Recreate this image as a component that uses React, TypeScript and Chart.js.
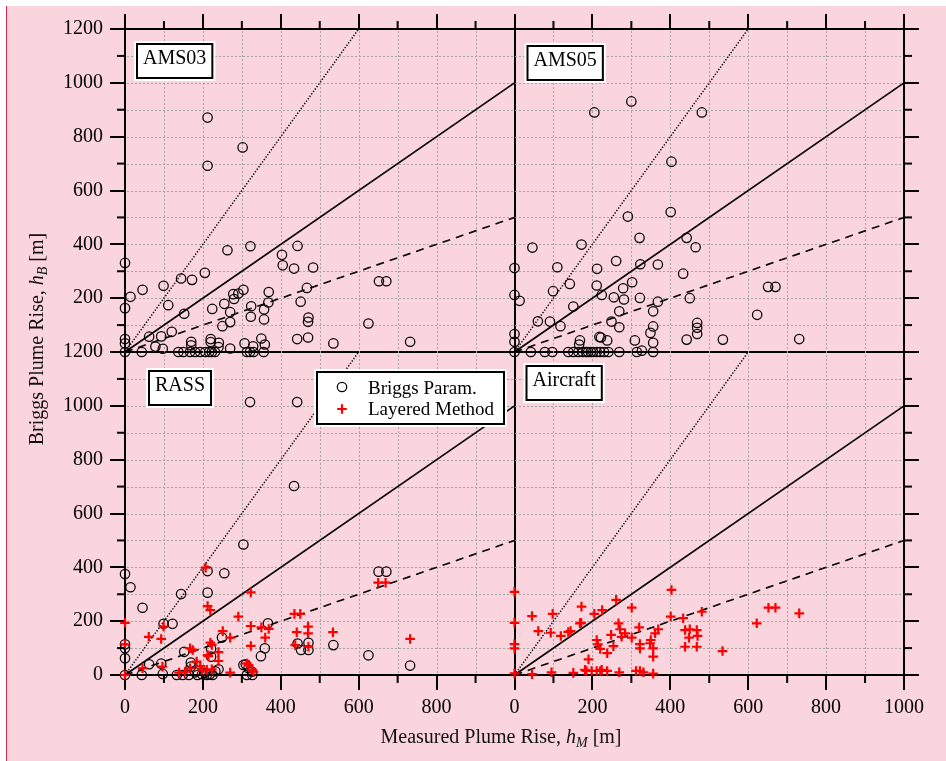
import React, { useEffect, useRef } from 'react';
import { Chart, registerables } from 'chart.js';

Chart.register(...registerables);

type Pt = [number, number];

// ---------- tick labels / texts ----------
const xMajorTicks = [0, 200, 400, 600, 800, 1000];
const yMajorTicks = [0, 200, 400, 600, 800, 1000, 1200];
const panelNames = ['AMS03', 'AMS05', 'RASS', 'Aircraft'];
const legendLabels = ['Briggs Param.', 'Layered Method'];

// ---------- data (measured hM, Briggs hB) ----------
const ams03Briggs: Pt[] = [
  [0, 331], [212, 871], [302, 760], [212, 692], [263, 378], [322, 393], [443, 394], [403, 361],
  [405, 322], [434, 310], [483, 314], [205, 294], [144, 273], [172, 268], [45, 231], [99, 246],
  [14, 205], [0, 163], [111, 174], [152, 142], [652, 263], [671, 263], [625, 106], [732, 38],
  [535, 32], [442, 48], [470, 54], [467, 238], [451, 187], [471, 128], [470, 112], [369, 223],
  [368, 184], [357, 158], [357, 121], [324, 170], [323, 131], [304, 231], [291, 217], [278, 215],
  [280, 197], [255, 179], [270, 148], [270, 111], [250, 96], [224, 160], [120, 75], [93, 58],
  [62, 57], [0, 48], [0, 32], [0, 0], [78, 20], [97, 12], [43, 0], [170, 38], [170, 25],
  [220, 48], [220, 37], [241, 34], [307, 32], [350, 50], [359, 28], [329, 21], [270, 13],
  [137, 0], [150, 0], [167, 0], [180, 0], [193, 0], [206, 0], [216, 0], [223, 0], [231, 0],
  [240, 18], [313, 0], [321, 0], [330, 0], [356, 0],
];

const ams05Briggs: Pt[] = [
  [300, 931], [205, 890], [481, 890], [403, 707], [401, 520], [291, 503], [321, 424], [442, 424],
  [465, 389], [172, 399], [46, 388], [0, 312], [110, 315], [212, 309], [261, 338], [323, 326],
  [368, 325], [433, 291], [0, 212], [13, 190], [99, 226], [142, 253], [211, 247], [224, 212],
  [279, 237], [302, 259], [255, 203], [281, 195], [322, 201], [368, 187], [450, 200], [151, 169],
  [269, 151], [356, 151], [60, 114], [91, 113], [118, 96], [249, 113], [269, 92], [356, 95],
  [349, 71], [356, 34], [309, 43], [238, 43], [218, 56], [222, 54], [168, 43], [166, 28],
  [0, 67], [0, 38], [469, 108], [469, 90], [469, 67], [442, 46], [535, 46], [623, 138],
  [651, 242], [670, 242], [731, 48], [0, 0], [42, 0], [78, 0], [97, 0], [138, 0], [151, 0],
  [164, 0], [175, 0], [184, 0], [189, 0], [196, 0], [202, 0], [211, 0], [220, 0], [230, 0],
  [241, 0], [269, 0], [314, 0], [327, 5], [356, 0],
];

const rassBriggs: Pt[] = [
  [321, 1014], [442, 1014], [434, 702], [304, 485], [0, 375], [14, 326], [45, 250], [144, 301],
  [212, 386], [212, 306], [255, 378], [99, 190], [122, 190], [367, 192], [651, 384], [671, 384],
  [0, 114], [0, 99], [0, 62], [152, 86], [249, 139], [221, 97], [221, 68], [359, 99], [349, 70],
  [443, 117], [452, 93], [471, 120], [471, 93], [535, 111], [625, 73], [732, 35], [304, 37],
  [317, 25], [240, 21], [93, 42], [62, 40], [169, 46], [169, 31], [310, 40], [326, 12], [0, 0],
  [43, 0], [97, 4], [133, 0], [148, 0], [164, 0], [186, 0], [198, 3], [210, 0], [217, 2],
  [225, 0], [313, 0], [327, 0], [180, 10], [206, 8], [232, 14],
];

const rassLayered: Pt[] = [
  [207, 399], [323, 307], [212, 256], [219, 241], [291, 217], [0, 194], [0, 114], [99, 180],
  [61, 142], [93, 134], [251, 163], [270, 139], [323, 182], [323, 108], [350, 177], [369, 171],
  [360, 139], [435, 227], [450, 227], [441, 159], [470, 180], [470, 155], [437, 111], [471, 105],
  [534, 159], [732, 134], [650, 343], [669, 343], [167, 99], [174, 93], [219, 120], [223, 112],
  [214, 70], [240, 85], [240, 52], [212, 74], [313, 43], [317, 37], [326, 19], [330, 12],
  [270, 9], [45, 25], [96, 31], [139, 9], [154, 12], [184, 50], [193, 33], [197, 19], [210, 19],
  [223, 21], [167, 25], [0, 0],
];

const aircraftLayered: Pt[] = [
  [0, 309], [0, 194], [0, 115], [0, 99], [0, 6], [45, 219], [61, 163], [98, 227], [93, 157],
  [119, 145], [138, 160], [144, 163], [168, 192], [171, 194], [172, 254], [205, 227], [225, 241],
  [261, 279], [301, 250], [403, 316], [401, 217], [433, 211], [481, 235], [622, 192], [652, 250],
  [670, 250], [731, 229], [534, 89], [211, 130], [214, 114], [220, 97], [238, 81], [190, 58],
  [254, 107], [248, 149], [267, 192], [271, 170], [284, 155], [275, 142], [301, 139], [320, 177],
  [322, 115], [322, 99], [348, 118], [350, 130], [356, 99], [356, 68], [361, 155], [369, 170],
  [438, 167], [450, 170], [468, 167], [470, 145], [438, 105], [468, 105], [448, 139], [45, 3],
  [95, 10], [151, 8], [185, 15], [198, 15], [211, 15], [220, 15], [238, 15], [269, 10], [312, 15],
  [322, 15], [331, 10], [356, 5], [181, 19], [224, 19],
];

// reference lines hB = 2 hM, hB = hM, hB = hM / 2
const lineTwice: Pt[] = [[0, 0], [600, 1200]];
const lineEqual: Pt[] = [[0, 0], [1000, 1000]];
const lineHalf: Pt[] = [[0, 0], [1000, 500]];

// ---------- styling / layout ----------
const FONT = '"Liberation Serif", "Times New Roman", Times, serif';
const PINK = '#fbd5dd';
const RED = '#ff0000';
const GRID = '#a2a2a2';

const panels = [
  { name: panelNames[0], x: 'xL', y: 'yT', briggs: ams03Briggs, layered: null as Pt[] | null, dx: 12, dy: 15 },
  { name: panelNames[1], x: 'xR', y: 'yT', briggs: ams05Briggs, layered: null as Pt[] | null, dx: 13, dy: 17 },
  { name: panelNames[2], x: 'xL', y: 'yB', briggs: rassBriggs, layered: rassLayered, dx: 24, dy: 19 },
  { name: panelNames[3], x: 'xR', y: 'yB', briggs: null as Pt[] | null, layered: aircraftLayered, dx: 12, dy: 14 },
];

const toXY = (a: Pt[]) => a.map(([x, y]) => ({ x, y }));

function buildDatasets() {
  const ds: any[] = [];
  for (const p of panels) {
    if (p.layered) {
      ds.push({
        label: legendLabels[1], data: toXY(p.layered), xAxisID: p.x, yAxisID: p.y,
        showLine: false, pointStyle: 'cross', pointRadius: 4.8, pointHoverRadius: 4.8,
        pointBorderColor: RED, pointBackgroundColor: RED, pointBorderWidth: 2.2, clip: false,
      });
    }
    if (p.briggs) {
      ds.push({
        label: legendLabels[0], data: toXY(p.briggs), xAxisID: p.x, yAxisID: p.y,
        showLine: false, pointStyle: 'circle', pointRadius: 4.7, pointHoverRadius: 4.7,
        pointBorderColor: '#000', pointBackgroundColor: 'rgba(0,0,0,0)', pointBorderWidth: 1.25, clip: false,
      });
    }
  }
  for (const p of panels) {
    const base = { xAxisID: p.x, yAxisID: p.y, showLine: true, pointRadius: 0, pointHoverRadius: 0,
      borderColor: '#000', fill: false, tension: 0, clip: false };
    ds.push({ ...base, label: 'ratio 2', data: toXY(lineTwice), borderWidth: 1.5, borderDash: [1.3, 1.7] });
    ds.push({ ...base, label: 'ratio 1', data: toXY(lineEqual), borderWidth: 1.6 });
    ds.push({ ...base, label: 'ratio 0.5', data: toXY(lineHalf), borderWidth: 1.6, borderDash: [8, 6] });
  }
  return ds;
}

const AREA = { left: 125, right: 904, top: 29, bottom: 675, W: 946, H: 761 };

function mkScale(o: {
  position: string; stack: string; min: number; max: number; major: number[]; hide?: number;
  labels: boolean; divider?: number; size: number; horizontal: boolean;
}) {
  return {
    type: 'linear',
    position: o.position,
    stack: o.stack,
    stackWeight: 1,
    min: o.min,
    max: o.max,
    offset: false,
    ticks: {
      display: o.labels,
      stepSize: 100,
      autoSkip: false,
      maxRotation: 0,
      minRotation: 0,
      padding: o.horizontal ? 6 : 7,
      color: '#000',
      font: { family: FONT, size: 20 },
      callback: (v: any) => (o.major.includes(v) && v !== o.hide ? String(v) : ''),
    },
    grid: {
      display: true,
      drawOnChartArea: o.divider !== undefined,
      drawTicks: true,
      tickLength: 15,
      tickWidth: 2,
      tickColor: (c: any) => (c.tick && c.tick.value % 200 === 0 ? '#000' : 'rgba(0,0,0,0)'),
      color: (c: any) => (c.tick && o.divider !== undefined && c.tick.value === o.divider ? '#000' : 'rgba(0,0,0,0)'),
      lineWidth: 2,
    },
    border: { display: true, color: '#000', width: 2 },
    afterFit: (s: any) => {
      if (o.horizontal) s.height = o.size; else s.width = o.size;
    },
  };
}

function buildScales() {
  const L = AREA.left, T = AREA.top, R = AREA.W - AREA.right, B = AREA.H - AREA.bottom;
  // order matters for stacking: left/top stacks are laid out in reverse definition order
  return {
    yB: mkScale({ position: 'left', stack: 'yl', min: 0, max: 1200, major: yMajorTicks, labels: true, divider: 1200, size: L, horizontal: false }),
    yT: mkScale({ position: 'left', stack: 'yl', min: 0, max: 1200, major: yMajorTicks, hide: 0, labels: true, size: L, horizontal: false }),
    xL: mkScale({ position: 'bottom', stack: 'xb', min: 0, max: 1000, major: xMajorTicks, hide: 1000, labels: true, size: B, horizontal: true }),
    xR: mkScale({ position: 'bottom', stack: 'xb', min: 0, max: 1000, major: xMajorTicks, labels: true, divider: 0, size: B, horizontal: true }),
    xTR: mkScale({ position: 'top', stack: 'xt', min: 0, max: 1000, major: xMajorTicks, labels: false, size: T, horizontal: true }),
    xTL: mkScale({ position: 'top', stack: 'xt', min: 0, max: 1000, major: xMajorTicks, labels: false, size: T, horizontal: true }),
    yTR: mkScale({ position: 'right', stack: 'yr', min: 0, max: 1200, major: yMajorTicks, labels: false, size: R, horizontal: false }),
    yBR: mkScale({ position: 'right', stack: 'yr', min: 0, max: 1200, major: yMajorTicks, labels: false, size: R, horizontal: false }),
  };
}

type Part = { t: string; font: string; dy?: number };

function drawRich(ctx: CanvasRenderingContext2D, parts: Part[], cx: number, baseY: number) {
  let total = 0;
  const widths = parts.map((p) => { ctx.font = p.font; const w = ctx.measureText(p.t).width; total += w; return w; });
  let x = cx - total / 2;
  ctx.textAlign = 'left';
  ctx.textBaseline = 'alphabetic';
  parts.forEach((p, i) => {
    ctx.font = p.font;
    ctx.fillText(p.t, x, baseY + (p.dy || 0));
    x += widths[i];
  });
}

function drawBoxFrame(ctx: CanvasRenderingContext2D, x: number, y: number, w: number, h: number) {
  ctx.fillStyle = '#fff';
  ctx.fillRect(x - 3, y - 3, w + 6, h + 6);
  ctx.strokeStyle = '#000';
  ctx.lineWidth = 2;
  ctx.strokeRect(x, y, w, h);
}

function drawGrid(chart: any) {
  // dotted grid every 100 units inside each panel, drawn as small dashes
  const ctx: CanvasRenderingContext2D = chart.ctx;
  const sc = chart.scales;
  const area = chart.chartArea;
  const top = Math.round(area.top), bottom = Math.round(area.bottom);
  const left = Math.round(area.left), right = Math.round(area.right);
  ctx.save();
  ctx.setLineDash([]);
  ctx.globalAlpha = 1;
  ctx.fillStyle = GRID;
  for (const id of ['xL', 'xR']) {
    const s = sc[id];
    for (let v = s.min + 100; v < s.max; v += 100) {
      const p = Math.round(s.getPixelForValue(v));
      for (let y = top + 2; y < bottom - 1; y += 4) ctx.fillRect(p, y, 1, 2);
    }
  }
  for (const id of ['yT', 'yB']) {
    const s = sc[id];
    for (let v = s.min + 100; v < s.max; v += 100) {
      const p = Math.round(s.getPixelForValue(v));
      for (let x = left + 2; x < right - 1; x += 4) ctx.fillRect(x, p, 2, 1);
    }
  }
  ctx.restore();
}

const decorPlugin = {
  id: 'decor',
  beforeDatasetsDraw(chart: any) {
    drawGrid(chart);
  },
  afterDraw(chart: any) {
    const ctx: CanvasRenderingContext2D = chart.ctx;
    const sc = chart.scales;
    ctx.save();
    // minor ticks (odd hundreds), shorter than the major ones
    ctx.strokeStyle = '#000';
    ctx.lineWidth = 2;
    const minorLen = 8;
    const doMinor = (id: string) => {
      const s = sc[id];
      for (let v = s.min + 100; v < s.max; v += 200) {
        const p = s.getPixelForValue(v);
        ctx.beginPath();
        if (s.position === 'left') { ctx.moveTo(s.right - minorLen, p); ctx.lineTo(s.right, p); }
        else if (s.position === 'right') { ctx.moveTo(s.left, p); ctx.lineTo(s.left + minorLen, p); }
        else if (s.position === 'top') { ctx.moveTo(p, s.bottom - minorLen); ctx.lineTo(p, s.bottom); }
        else { ctx.moveTo(p, s.top); ctx.lineTo(p, s.top + minorLen); }
        ctx.stroke();
      }
    };
    ['yT', 'yB', 'yTR', 'yBR', 'xL', 'xR', 'xTL', 'xTR'].forEach(doMinor);

    // panel name boxes
    for (const p of panels) {
      const xs = sc[p.x], ys = sc[p.y];
      const x0 = xs.left + p.dx, y0 = ys.top + p.dy;
      ctx.font = `20px ${FONT}`;
      const tw = ctx.measureText(p.name).width;
      const w = tw + 12, h = 34;
      drawBoxFrame(ctx, x0, y0, w, h);
      ctx.fillStyle = '#000';
      ctx.textAlign = 'left';
      ctx.textBaseline = 'alphabetic';
      ctx.fillText(p.name, x0 + 6, y0 + 20);
    }

    // legend inside the RASS panel
    {
      const xs = sc.xL, ys = sc.yB;
      const lx = xs.left + 192, ly = ys.top + 20, lw = 187, lh = 52;
      drawBoxFrame(ctx, lx, ly, lw, lh);
      const sx = lx + 25;
      ctx.strokeStyle = '#000';
      ctx.lineWidth = 1.25;
      ctx.beginPath();
      ctx.arc(sx, ly + 15, 4.7, 0, Math.PI * 2);
      ctx.stroke();
      ctx.strokeStyle = RED;
      ctx.lineWidth = 2.2;
      ctx.beginPath();
      ctx.moveTo(sx - 4.8, ly + 37); ctx.lineTo(sx + 4.8, ly + 37);
      ctx.moveTo(sx, ly + 37 - 4.8); ctx.lineTo(sx, ly + 37 + 4.8);
      ctx.stroke();
      ctx.fillStyle = '#000';
      ctx.font = `19px ${FONT}`;
      ctx.textAlign = 'left';
      ctx.textBaseline = 'alphabetic';
      ctx.fillText(legendLabels[0], lx + 51, ly + 21.5);
      ctx.fillText(legendLabels[1], lx + 51, ly + 43);
    }

    // axis titles
    ctx.fillStyle = '#111';
    const n = `20px ${FONT}`, it = `italic 20px ${FONT}`, sub = `italic 14px ${FONT}`;
    drawRich(ctx, [
      { t: 'Measured Plume Rise, ', font: n },
      { t: 'h', font: it },
      { t: 'M', font: sub, dy: 4 },
      { t: ' [m]', font: n },
    ], 501, 743);
    ctx.save();
    ctx.translate(43, 339);
    ctx.rotate(-Math.PI / 2);
    drawRich(ctx, [
      { t: 'Briggs Plume Rise, ', font: n },
      { t: 'h', font: it },
      { t: 'B', font: sub, dy: 4 },
      { t: ' [m]', font: n },
    ], 0, 0);
    ctx.restore();
    ctx.restore();
  },
};

function PlumeChart() {
  const ref = useRef<HTMLCanvasElement | null>(null);
  useEffect(() => {
    if (!ref.current) return;
    Chart.defaults.font.family = FONT;
    const chart = new Chart(ref.current, {
      type: 'scatter',
      data: { datasets: buildDatasets() },
      options: {
        animation: false,
        responsive: true,
        maintainAspectRatio: false,
        events: [],
        layout: { padding: 0 },
        plugins: { legend: { display: false }, title: { display: false }, tooltip: { enabled: false } },
        scales: buildScales() as any,
      },
      plugins: [decorPlugin],
    } as any);
    return () => chart.destroy();
  }, []);
  return <canvas ref={ref} />;
}

export default function App() {
  return (
    <div style={{ position: 'absolute', left: 0, top: 0, width: AREA.W, height: AREA.H, background: '#fff', overflow: 'hidden' }}>
      <div style={{ position: 'absolute', left: 6, top: 6, right: 0, bottom: 0, background: PINK, borderLeft: '1.5px solid #d0284f' }} />
      <div style={{ position: 'absolute', left: 0, top: 0, width: AREA.W, height: AREA.H }}>
        <PlumeChart />
      </div>
    </div>
  );
}
